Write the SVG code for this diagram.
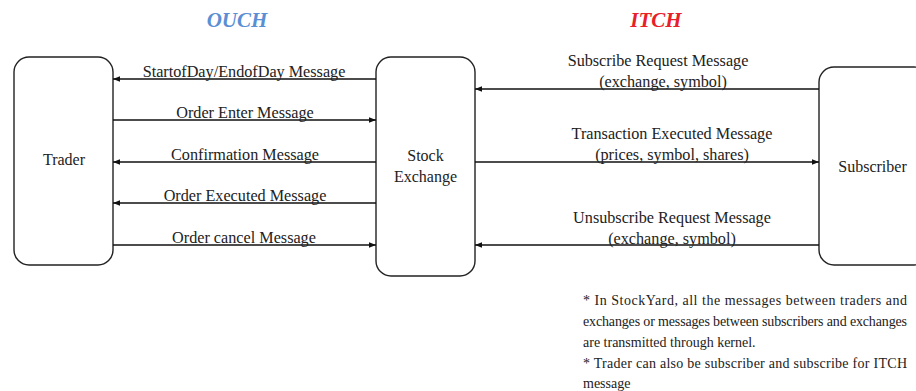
<svg xmlns="http://www.w3.org/2000/svg" width="916" height="391" viewBox="0 0 916 391">
<style>
.box{fill:#ffffff;stroke:#222;stroke-width:1.4}
.lbl{font-family:"Liberation Serif","Times New Roman",serif;font-size:16px;fill:#222;text-anchor:middle}
.msg{font-family:"Liberation Serif","Times New Roman",serif;font-size:16.2px;fill:#222;text-anchor:middle}
.note{font-family:"Liberation Serif","Times New Roman",serif;font-size:14px;fill:#222}
.title{font-family:"Liberation Serif","Times New Roman",serif;font-size:21px;font-weight:bold;font-style:italic;text-anchor:middle}
.conn{stroke:#111;stroke-width:1.3;fill:none;marker-end:url(#arr)}
</style>
<defs>
<marker id="arr" viewBox="0 0 10 8" refX="10" refY="4" markerWidth="7" markerHeight="6" markerUnits="userSpaceOnUse" orient="auto">
<path d="M0,0 L10,4 L0,8 z" fill="#111"/>
</marker>
</defs>
<rect width="916" height="391" fill="#ffffff"/>
<text class="title" x="237" y="27" fill="#5b8fd4">OUCH</text>
<text class="title" x="656" y="27" fill="#e8202a">ITCH</text>
<g id="trader">
<rect class="box" x="14" y="57" width="99" height="208" rx="15" ry="15"/>
<text class="lbl" x="64" y="165">Trader</text>
</g>
<g id="exchange">
<rect class="box" x="376" y="57" width="99" height="219" rx="15" ry="15"/>
<text class="lbl" x="425.5" y="161">Stock</text>
<text class="lbl" x="425.5" y="182">Exchange</text>
</g>
<g id="subscriber">
<rect class="box" x="819" y="67" width="110" height="198" rx="15" ry="15"/>
<text class="lbl" x="872.5" y="172">Subscriber</text>
</g>
<g id="connectors">
<line class="conn" x1="376" y1="79" x2="113" y2="79"/>
<line class="conn" x1="113" y1="120" x2="376" y2="120"/>
<line class="conn" x1="376" y1="162" x2="113" y2="162"/>
<line class="conn" x1="376" y1="203" x2="113" y2="203"/>
<line class="conn" x1="113" y1="245" x2="376" y2="245"/>
<line class="conn" x1="819" y1="89" x2="475" y2="89"/>
<line class="conn" x1="475" y1="162" x2="819" y2="162"/>
<line class="conn" x1="819" y1="245" x2="475" y2="245"/>
<text class="msg" x="244" y="77">StartofDay/EndofDay Message</text>
<text class="msg" x="245" y="118">Order Enter Message</text>
<text class="msg" x="245" y="160">Confirmation Message</text>
<text class="msg" x="245" y="201">Order Executed Message</text>
<text class="msg" x="244" y="243">Order cancel Message</text>
<text class="msg" x="658" y="66">Subscribe Request Message</text>
<text class="msg" x="663" y="87">(exchange, symbol)</text>
<text class="msg" x="672" y="139">Transaction Executed Message</text>
<text class="msg" x="672" y="160">(prices, symbol, shares)</text>
<text class="msg" x="672" y="223">Unsubscribe Request Message</text>
<text class="msg" x="672" y="244">(exchange, symbol)</text>
</g>
<g id="note">
<text class="note" x="583" y="305" textLength="324" lengthAdjust="spacing">* In StockYard, all the messages between traders and</text>
<text class="note" x="583" y="326" textLength="324" lengthAdjust="spacing">exchanges or messages between subscribers and exchanges</text>
<text class="note" x="583" y="347">are transmitted through kernel.</text>
<text class="note" x="583" y="368" textLength="324" lengthAdjust="spacing">* Trader can also be subscriber and subscribe for ITCH</text>
<text class="note" x="583" y="388">message</text>
</g>
</svg>
